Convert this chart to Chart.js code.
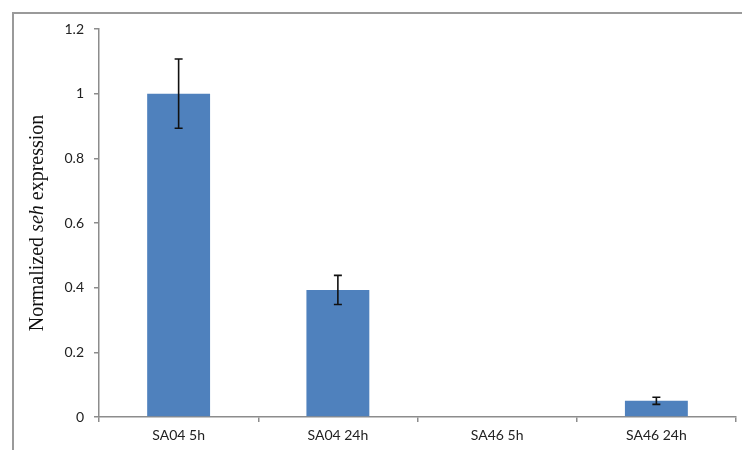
<!DOCTYPE html>
<html>
<head>
<meta charset="utf-8">
<script src="https://cdn.jsdelivr.net/npm/chart.js@4"></script>
<style>
	html, body { margin: 0; padding: 0; background: #fff; }
	#wrap { position: relative; width: 742px; height: 450px; }
</style>
</head>
<body>
<div id="wrap"><canvas id="chart-seh"></canvas></div>
<script>
// Data
const CATEGORIES = ["SA04 5h", "SA04 24h", "SA46 5h", "SA46 24h"];
const EXPRESSION = [1.0, 0.393, 0, 0.05];
const ERRORS = [0.107, 0.045, 0, 0.011];
const Y_TICKS = [0, 0.2, 0.4, 0.6, 0.8, 1, 1.2];

const BAR_COLOR = "#4f81bd";
const AXIS_COLOR = "#8c8c8c";
const TICK_FONT = { family: "Lato, 'Open Sans', sans-serif", size: 14 };

//---------------------------------------------------------
// Plugins
//---------------------------------------------------------

// Outer frame (left + top border of the figure)
const framePlugin = {
	id: "frame",
	beforeDraw(chart) {
		const { ctx } = chart;
		ctx.save();
		ctx.strokeStyle = "#9a9a9a";
		ctx.lineWidth = 2;
		ctx.beginPath();
		ctx.moveTo(13, chart.height);
		ctx.lineTo(13, 13);
		ctx.lineTo(chart.width, 13);
		ctx.stroke();
		ctx.restore();
	},
};

// Error bars drawn from ERRORS through the y scale
const errorBarPlugin = {
	id: "errorBars",
	afterDatasetsDraw(chart) {
		const { ctx } = chart;
		const yScale = chart.scales.y;
		const meta = chart.getDatasetMeta(0);
		ctx.save();
		ctx.strokeStyle = "#111";
		ctx.lineWidth = 1.6;
		meta.data.forEach((bar, i) => {
			const err = ERRORS[i];
			if (!err) return;
			const v = EXPRESSION[i];
			const yTop = yScale.getPixelForValue(v + err);
			const yBot = yScale.getPixelForValue(v - err);
			const x = bar.x;
			const cap = 4;
			ctx.beginPath();
			ctx.moveTo(x, yTop);
			ctx.lineTo(x, yBot);
			ctx.moveTo(x - cap, yTop);
			ctx.lineTo(x + cap, yTop);
			ctx.moveTo(x - cap, yBot);
			ctx.lineTo(x + cap, yBot);
			ctx.stroke();
		});
		ctx.restore();
	},
};

// Y axis title with italic gene name
const yTitlePlugin = {
	id: "yTitle",
	afterDraw(chart) {
		const { ctx, chartArea } = chart;
		const parts = [
			{ text: "Normalized ", font: "20px 'Liberation Serif', 'Times New Roman', serif" },
			{ text: "seh", font: "italic 20px 'Liberation Serif', 'Times New Roman', serif" },
			{ text: " expression", font: "20px 'Liberation Serif', 'Times New Roman', serif" },
		];
		let total = 0;
		parts.forEach((p) => {
			ctx.font = p.font;
			p.w = ctx.measureText(p.text).width;
			total += p.w;
		});
		ctx.save();
		ctx.translate(38, (chartArea.top + chartArea.bottom) / 2);
		ctx.rotate(-Math.PI / 2);
		ctx.fillStyle = "#111";
		ctx.textBaseline = "middle";
		let x = -total / 2;
		parts.forEach((p) => {
			ctx.font = p.font;
			ctx.fillText(p.text, x, 0);
			x += p.w;
		});
		ctx.restore();
	},
};

//---------------------------------------------------------
// Chart
//---------------------------------------------------------

const CHART_DATA = {
	labels: CATEGORIES,
	datasets: [
		{
			label: "Normalized seh expression",
			data: EXPRESSION,
			backgroundColor: BAR_COLOR,
			borderWidth: 0,
			categoryPercentage: 1,
			barPercentage: 0.395,
		},
	],
};

const CHART_CONFIG = {
	type: "bar",
	data: CHART_DATA,
	options: {
		responsive: true,
		maintainAspectRatio: false,
		animation: false,
		layout: {
			padding: { left: 0, top: 29, right: 6, bottom: 0 },
		},
		scales: {
			x: {
				border: { display: true, color: AXIS_COLOR, width: 1.5 },
				grid: {
					display: true,
					drawOnChartArea: false,
					drawTicks: true,
					tickLength: 5,
					color: AXIS_COLOR,
					lineWidth: 1.5,
				},
				ticks: {
					color: "#222",
					font: TICK_FONT,
					padding: 5,
					maxRotation: 0,
				},
				afterFit: (scale) => {
					scale.height = 33;
				},
			},
			y: {
				min: 0,
				max: 1.2,
				border: { display: true, color: AXIS_COLOR, width: 1.5 },
				grid: {
					display: true,
					drawOnChartArea: false,
					drawTicks: true,
					tickLength: 5,
					color: AXIS_COLOR,
					lineWidth: 1.5,
				},
				afterBuildTicks: (scale) => {
					scale.ticks = Y_TICKS.map((v) => ({ value: v }));
				},
				ticks: {
					color: "#222",
					font: TICK_FONT,
					padding: 10,
					callback: (v) => String(Math.round(v * 10) / 10),
				},
				afterFit: (scale) => {
					scale.width = 99;
				},
			},
		},
		plugins: {
			legend: { display: false },
			tooltip: { enabled: false },
		},
	},
	plugins: [framePlugin, errorBarPlugin, yTitlePlugin],
};

new Chart(document.getElementById("chart-seh"), CHART_CONFIG);
</script>
</body>
</html>
